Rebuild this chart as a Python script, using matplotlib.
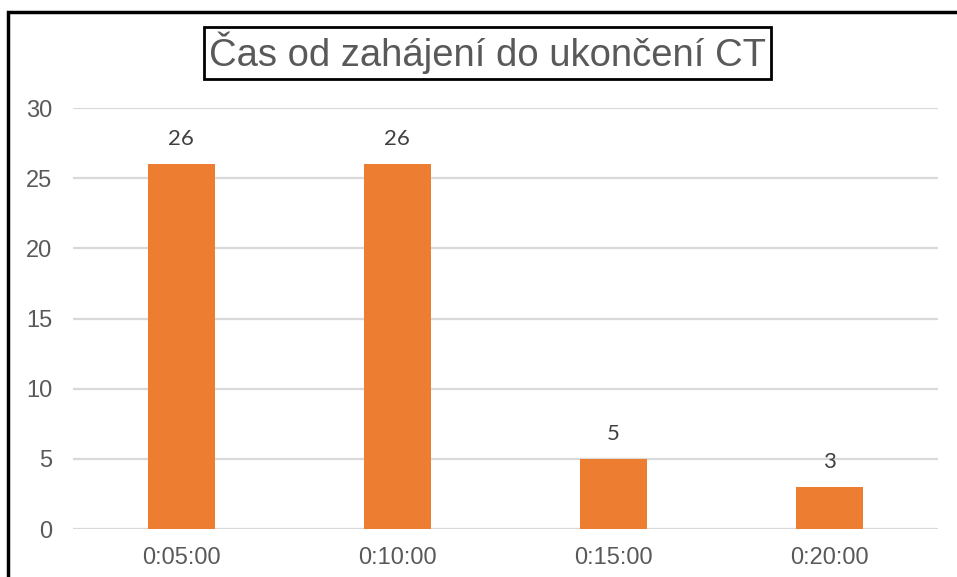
import matplotlib.pyplot as plt
from matplotlib.patches import Rectangle

# data
categories = ["0:05:00", "0:10:00", "0:15:00", "0:20:00"]
counts = [26, 26, 5, 3]
title = "Čas od zahájení do ukončení CT"

bar_color = "#ED7D31"
grid_color = "#D9D9D9"
text_color = "#595959"

fig = plt.figure(figsize=(9.57, 5.77), dpi=100)
ax = fig.add_axes([73 / 957, 1 - 529 / 577, (938 - 73) / 957, (529 - 108) / 577])

x = range(len(categories))
bars = ax.bar(x, counts, width=0.31, color=bar_color, zorder=3)

# data labels
for rect, val in zip(bars, counts):
    ax.annotate(
        str(val),
        (rect.get_x() + rect.get_width() / 2, rect.get_height()),
        xytext=(0, 11),
        textcoords="offset points",
        ha="center",
        va="bottom",
        fontsize=16,
        family="Lato",
        color="#404040",
    )

ax.set_xlim(-0.5, len(categories) - 0.5)
ax.set_ylim(0, 30)
ax.set_yticks(range(0, 31, 5))
ax.set_xticks(list(x))
ax.set_xticklabels(categories)

for s in ax.spines.values():
    s.set_visible(False)
ax.yaxis.grid(True, color=grid_color, linewidth=1.6, zorder=0)
ax.tick_params(axis="both", length=0, labelsize=17, labelcolor=text_color)
ax.tick_params(axis="y", pad=15)
ax.tick_params(axis="x", pad=13)
for lab in ax.get_xticklabels() + ax.get_yticklabels():
    lab.set_family("Liberation Sans")

# boxed title
fig.text(
    487.5 / 957,
    1 - 53 / 577,
    title,
    ha="center",
    va="center",
    fontsize=27.5,
    family="Liberation Sans",
    color=text_color,
    bbox=dict(boxstyle="square,pad=0.12", facecolor="white", edgecolor="black", linewidth=2),
)

# outer frame (cut off on right and bottom)
fig.patches.append(
    Rectangle((8 / 957, -0.1), 1.2, 1 - 12 / 577 + 0.1, transform=fig.transFigure,
              fill=False, edgecolor="black", linewidth=2.5, zorder=10)
)

fig.savefig("out.png", dpi=100)
